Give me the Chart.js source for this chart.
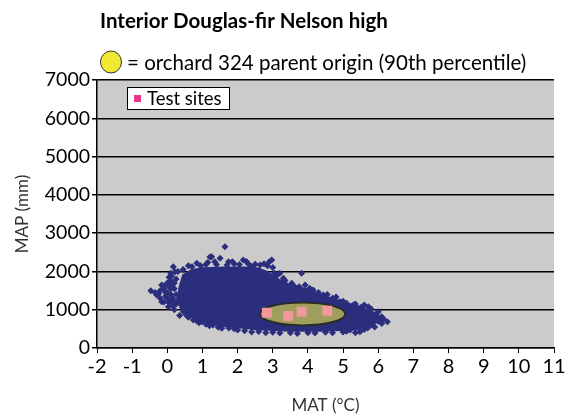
<!DOCTYPE html>
<html>
<head>
<meta charset="utf-8">
<script src="https://cdn.jsdelivr.net/npm/chart.js@4/dist/chart.umd.min.js"></script>
<style>
  html, body { margin: 0; padding: 0; background: #ffffff; }
  #wrap { width: 569px; height: 417px; }
</style>
</head>
<body>
<div id="wrap"><canvas id="chart" width="569" height="417"></canvas></div>
<script>
// Axis tick values
const matTicks = [-2, -1, 0, 1, 2, 3, 4, 5, 6, 7, 8, 9, 10, 11];
const mapTicks = [0, 1000, 2000, 3000, 4000, 5000, 6000, 7000];

// Dense core of the climate envelope (MAT °C, MAP mm), traced clockwise
const coreMat = [0.35, 0.30, 0.35, 0.45, 0.70, 1.00, 1.60, 2.20, 2.60, 2.85, 3.10, 3.50, 3.95, 4.45, 4.90, 5.40, 5.80, 6.00, 6.10, 5.80, 5.40, 4.45, 3.50, 2.55, 1.60, 1.00, 0.70, 0.45, 0.35];
const coreMap = [1100, 1300, 1600, 1900, 2040, 2080, 2100, 2100, 2080, 1980, 1820, 1640, 1540, 1360, 1230, 1090, 960, 850, 730, 610, 490, 450, 450, 490, 580, 700, 810, 940, 1100];

// Scattered climate points around the edge of the envelope
const edgeMat = [-0.47, -0.30, -0.16, -0.16, -0.05, 0.03, 0.00, -0.10, 0.10, 0.17, 0.22, 0.12, 0.05, 0.20, 0.46, 0.55, 0.74, 0.98, 0.10, 0.20, 0.15, 0.25, 0.05,
                 -0.20, -0.05, 0.10, 0.15, 0.00, 0.30, -0.25, 0.10, 0.25,
                 -0.35, -0.20, -0.10, 0.00, 0.10, 0.05, 0.20, 0.15, 0.25, -0.10, 0.30, 0.20,
                 0.84, 0.60, 1.26, 1.50, 1.64, 1.21, 1.35, 1.74, 2.16, 2.40, 2.64, 2.97, 2.90, 1.90, 2.30, 1.10, 3.30, 3.54, 3.82, 3.20, 3.00,
                 0.45, 0.70, 0.95, 1.15, 1.40, 1.70, 1.85, 2.05, 2.25, 2.50, 2.75, 2.85, 3.05, 3.10, 3.35, 3.60, 3.75, 4.05, 4.30, 4.55, 4.80, 5.00, 5.35, 5.60, 5.80, 6.00, 6.15,
                 3.92, 4.15, 4.44, 4.70, 4.91, 5.10, 5.29, 5.72, 5.50, 5.96, 6.10, 6.26, 6.00, 5.81, 5.90, 5.48, 5.60,
                 1.55, 1.30, 1.90, 2.20, 2.60, 3.00, 3.50, 4.00, 4.50, 5.00, 5.20, 1.10, 0.85,
                 0.35, 0.60, 0.90, 1.20, 1.45, 1.75, 2.00, 2.40, 2.80, 3.20, 3.70, 4.20, 4.70, 5.10, 5.35, 5.70, 6.10];
const edgeMap = [1497, 1384, 1210, 1646, 1450, 1080, 1300, 1550, 1750, 2124, 1993, 1880, 1180, 1000, 948, 850, 731, 688, 1400, 1550, 1650, 1800, 1600,
                 1500, 1350, 1250, 1100, 1700, 2000, 1420, 1950, 1150,
                 1450, 1300, 1200, 1450, 1550, 1850, 1700, 1300, 1400, 1620, 1250, 1200,
                 2212, 2150, 2385, 2343, 2646, 2376, 2250, 2254, 2298, 2124, 2168, 2298, 2250, 2200, 2200, 2180, 1820, 1690, 1950, 1950, 2100,
                 2050, 2120, 2150, 2230, 2180, 2170, 2250, 2180, 2260, 2190, 2200, 2150, 1950, 1880, 1760, 1620, 1600, 1560, 1450, 1400, 1330, 1220, 1150, 1120, 1020, 950, 760,
                 1646, 1515, 1384, 1300, 1210, 1170, 1123, 1080, 1060, 906, 818, 688, 700, 600, 550, 427, 480,
                 514, 600, 500, 450, 430, 410, 400, 400, 410, 420, 470, 620, 700,
                 850, 800, 660, 580, 540, 520, 470, 420, 400, 390, 380, 390, 400, 440, 400, 520, 640];

// Test sites (MAT °C, MAP mm)
const siteMat = [2.83, 3.44, 3.82, 4.55];
const siteMap = [922, 836, 948, 974];

// Orchard 324 parent origin, 90th percentile: centre and half-extent in MAT and MAP
const orchardMat = [3.85, 1.21];
const orchardMap = [890, 300];

const NAVY = '#2b2e7d';
const FONT = 'Lato, "Open Sans", sans-serif';

const zip = (xs, ys) => xs.map((x, i) => ({ x: x, y: ys[i] }));

const plotBackground = {
  id: 'plotBackground',
  beforeDraw(chart) {
    const { ctx, chartArea: a } = chart;
    ctx.save();
    ctx.fillStyle = '#cbcbcb';
    ctx.fillRect(a.left, a.top, a.right - a.left, a.bottom - a.top);
    ctx.restore();
  }
};

// Orchard ellipse sits above the climate cloud and below the test sites
const orchardEllipse = {
  id: 'orchardEllipse',
  afterDatasetDraw(chart, args) {
    if (args.index !== 1) return;
    const { ctx, scales: { x, y } } = chart;
    const cx = x.getPixelForValue(orchardMat[0]);
    const cy = y.getPixelForValue(orchardMap[0]);
    const rx = x.getPixelForValue(orchardMat[0] + orchardMat[1]) - cx;
    const ry = cy - y.getPixelForValue(orchardMap[0] + orchardMap[1]);
    ctx.save();
    ctx.beginPath();
    ctx.ellipse(cx, cy, rx, ry, 0, 0, Math.PI * 2);
    ctx.fillStyle = 'rgb(160,158,92)';
    ctx.fill();
    ctx.lineWidth = 2;
    ctx.strokeStyle = '#2a2a2a';
    ctx.stroke();
    ctx.restore();
  }
};

// Heading, orchard key and test-site key
const headings = {
  id: 'headings',
  afterDraw(chart) {
    const { ctx, chartArea: a } = chart;
    ctx.save();
    ctx.fillStyle = '#000';
    ctx.textBaseline = 'middle';
    ctx.textAlign = 'left';
    ctx.font = 'bold 20.5px ' + FONT;
    ctx.fillText('Interior Douglas-fir Nelson high', 100, 21);

    ctx.beginPath();
    ctx.ellipse(111, 62, 10.5, 11, 0, 0, Math.PI * 2);
    ctx.fillStyle = '#f0e833';
    ctx.fill();
    ctx.lineWidth = 1;
    ctx.strokeStyle = '#333';
    ctx.stroke();

    ctx.fillStyle = '#000';
    ctx.font = '20.5px ' + FONT;
    ctx.fillText('= orchard 324 parent origin (90th percentile)', 127, 63);

    const bx = a.left + 30, by = a.top + 7;
    ctx.fillStyle = '#fff';
    ctx.fillRect(bx, by, 102, 22);
    ctx.lineWidth = 1;
    ctx.strokeStyle = '#000';
    ctx.strokeRect(bx + 0.5, by + 0.5, 102, 22);
    ctx.fillStyle = '#e8388c';
    ctx.fillRect(bx + 7, by + 8, 7, 7);
    ctx.fillStyle = '#000';
    ctx.font = '18.5px ' + FONT;
    ctx.fillText('Test sites', bx + 20, by + 12);
    ctx.restore();
  }
};

new Chart(document.getElementById('chart'), {
  type: 'scatter',
  data: {
    datasets: [
      {
        label: 'Climate envelope',
        data: zip(coreMat, coreMap),
        showLine: true,
        fill: 'shape',
        backgroundColor: NAVY,
        borderColor: NAVY,
        borderWidth: 2,
        pointRadius: 0,
        tension: 0,
        order: 3
      },
      {
        label: 'Climate points',
        data: zip(edgeMat, edgeMap),
        pointStyle: 'rectRot',
        pointRadius: 3.5,
        backgroundColor: NAVY,
        borderColor: NAVY,
        borderWidth: 0,
        order: 2
      },
      {
        label: 'Test sites',
        data: zip(siteMat, siteMap),
        pointStyle: 'rect',
        pointRadius: 7,
        backgroundColor: '#f2979d',
        borderWidth: 0,
        order: 1
      }
    ]
  },
  options: {
    responsive: false,
    animation: false,
    devicePixelRatio: 1,
    layout: { padding: { top: 80, right: 15, bottom: 0, left: 0 } },
    plugins: {
      legend: { display: false },
      title: { display: false },
      tooltip: { enabled: false }
    },
    scales: {
      x: {
        type: 'linear',
        min: -2,
        max: 11,
        afterFit(s) { s.height = 69; },
        afterBuildTicks(s) { s.ticks = matTicks.map(v => ({ value: v })); },
        grid: { drawOnChartArea: false, drawTicks: true, tickLength: 5, color: '#000', lineWidth: 1 },
        border: { display: true, color: '#000', width: 1.5 },
        ticks: { color: '#000', padding: 2, maxRotation: 0, autoSkip: false, font: { family: FONT, size: 20 }, callback: v => String(v) },
        title: { display: true, text: 'MAT (°C)', color: '#333', padding: { top: 0, bottom: 1 }, font: { family: FONT, size: 17 } }
      },
      y: {
        type: 'linear',
        min: 0,
        max: 7000,
        afterFit(s) { s.width = 97; },
        afterBuildTicks(s) { s.ticks = mapTicks.map(v => ({ value: v })); },
        grid: { drawOnChartArea: true, drawTicks: true, tickLength: 5, color: '#000', lineWidth: 1.5 },
        border: { display: true, color: '#000', width: 1.5 },
        ticks: { color: '#000', padding: 2, font: { family: FONT, size: 19.5 }, callback: v => String(v) },
        title: { display: true, text: 'MAP (mm)', color: '#333', padding: { top: 12, bottom: 0 }, font: { family: FONT, size: 17 } }
      }
    }
  },
  plugins: [plotBackground, orchardEllipse, headings]
});
</script>
</body>
</html>
